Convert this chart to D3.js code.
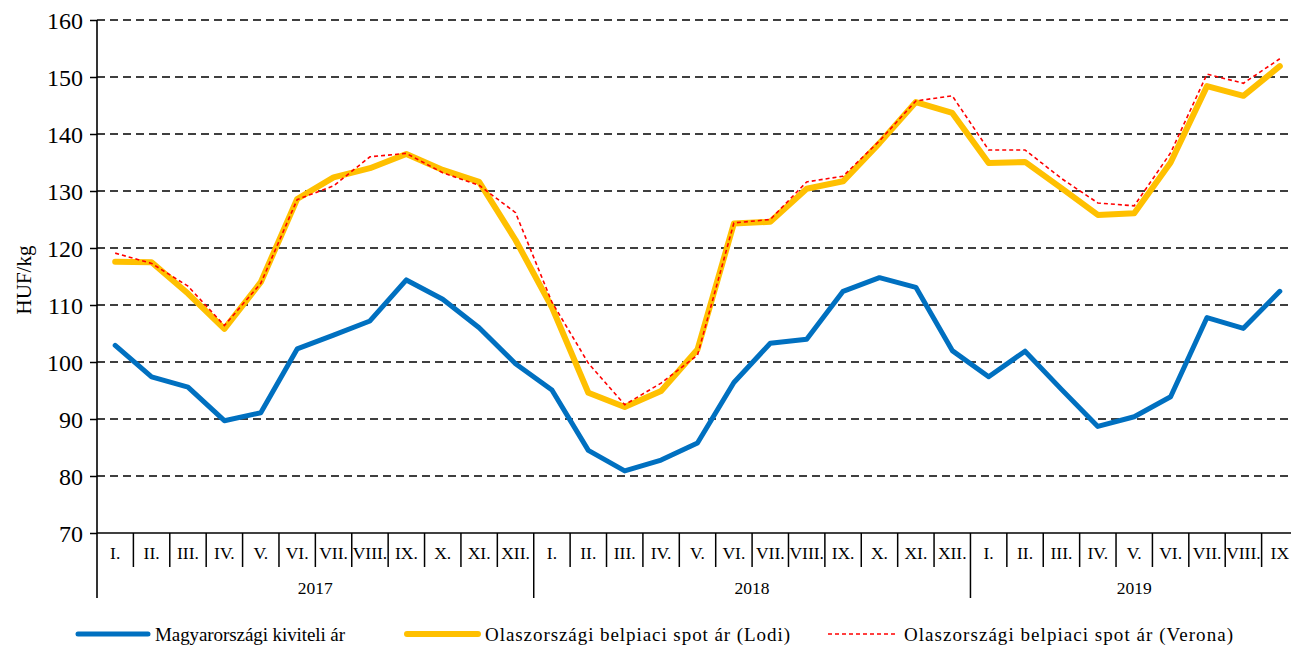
<!DOCTYPE html>
<html>
<head>
<meta charset="utf-8">
<script src="https://cdn.jsdelivr.net/npm/d3@7"></script>
<style>
  html, body { margin: 0; padding: 0; background: #fff; }
  svg { display: block; }
  svg text { font-family: "Liberation Serif", "DejaVu Serif", serif; fill: #000; }
</style>
</head>
<body>
<svg id="chart" width="1291" height="646"></svg>
<script>
const months = ["I.","II.","III.","IV.","V.","VI.","VII.","VIII.","IX.","X.","XI.","XII.",
                "I.","II.","III.","IV.","V.","VI.","VII.","VIII.","IX.","X.","XI.","XII.",
                "I.","II.","III.","IV.","V.","VI.","VII.","VIII.","IX"];
const years = [{label:"2017", start:0, count:12},{label:"2018", start:12, count:12},{label:"2019", start:24, count:9}];
const yTicks = [70,80,90,100,110,120,130,140,150,160];

const hungary = [102.9,97.4,95.6,89.7,91.1,102.3,104.7,107.2,114.4,111.0,106.0,99.7,
                 95.1,84.5,80.9,82.8,85.8,96.4,103.3,104.0,112.4,114.8,113.1,102.0,
                 97.4,101.9,95.2,88.7,90.4,93.9,107.8,105.9,112.4];
const lodi = [117.6,117.5,112.0,105.8,114.0,128.6,132.4,134.0,136.5,133.7,131.6,121.4,
              109.6,94.6,92.1,94.9,102.2,124.3,124.6,130.4,131.7,138.4,145.6,143.7,
              134.9,135.1,130.5,125.8,126.1,135.0,148.4,146.7,151.9];
const verona = [119.1,117.3,113.3,106.4,113.8,128.5,130.9,136.0,136.6,133.2,131.0,126.2,
                110.5,99.8,92.5,96.3,101.2,124.4,125.0,131.6,132.6,138.8,145.8,146.7,
                137.2,137.2,132.2,127.9,127.4,136.7,150.5,148.9,153.2];
const seriesNames = ["Magyarországi kiviteli ár","Olaszországi belpiaci spot ár (Lodi)","Olaszországi belpiaci spot ár (Verona)"];

(function () {
const svg = d3.select("#chart");
const mLeft = 97, mRight = 1298, mTop = 20, mBottom = 533, clipRight = 1291;

const x = d3.scaleBand().domain(d3.range(months.length)).range([mLeft, mRight]);
const y = d3.scaleLinear().domain([70,160]).range([mBottom, mTop]);

// gridlines
svg.append("g").selectAll("line").data(yTicks.filter(d => d > 70)).join("line")
  .attr("x1", mLeft).attr("x2", clipRight)
  .attr("y1", d => y(d)).attr("y2", d => y(d))
  .attr("stroke", "#000").attr("stroke-width", 1.6).attr("stroke-dasharray", "8,5");

// y axis
const yAxis = d3.axisLeft(y).tickValues(yTicks).tickSize(7).tickPadding(7).tickFormat(d3.format("d"));
const gy = svg.append("g").attr("transform", `translate(${mLeft},0)`).call(yAxis);
gy.attr("font-family", null).attr("font-size", null);
gy.select(".domain").remove();
gy.selectAll(".tick line").attr("stroke", "#000").attr("stroke-width", 1.5);
gy.selectAll(".tick text").style("font-size", "24px").attr("dy", "0.34em");
svg.append("line").attr("x1", mLeft).attr("x2", mLeft).attr("y1", mTop).attr("y2", 598)
  .attr("stroke", "#000").attr("stroke-width", 1.6);

// x axis baseline
svg.append("line").attr("x1", mLeft).attr("x2", clipRight).attr("y1", mBottom).attr("y2", mBottom)
  .attr("stroke", "#000").attr("stroke-width", 1.6);

// month separators
const yearStarts = years.map(d => d.start);
svg.append("g").selectAll("line").data(d3.range(1, months.length)).join("line")
  .attr("x1", i => x(i)).attr("x2", i => x(i))
  .attr("y1", mBottom).attr("y2", i => yearStarts.includes(i) ? 598 : 567)
  .attr("stroke", "#000").attr("stroke-width", 1.5);

// month labels
svg.append("g").selectAll("text").data(months).join("text")
  .attr("x", (d, i) => x(i) + x.bandwidth() / 2)
  .attr("y", 559)
  .attr("text-anchor", "middle")
  .style("font-size", "17.5px")
  .text(d => d);

// year labels
svg.append("g").selectAll("text").data(years).join("text")
  .attr("x", d => (x(d.start) + x(d.start + d.count - 1) + x.bandwidth()) / 2)
  .attr("y", 594)
  .attr("text-anchor", "middle")
  .style("font-size", "17.5px")
  .text(d => d.label);

// y label
svg.append("text")
  .attr("transform", "translate(31,280) rotate(-90)")
  .attr("text-anchor", "middle")
  .style("font-size", "21px")
  .text("HUF/kg");

const line = d3.line().x((d, i) => x(i) + x.bandwidth() / 2).y(d => y(d));

svg.append("path").datum(hungary).attr("d", line)
  .attr("fill", "none").attr("stroke", "#0070C0").attr("stroke-width", 5).attr("stroke-linejoin", "round").attr("stroke-linecap", "round");
svg.append("path").datum(lodi).attr("d", line)
  .attr("fill", "none").attr("stroke", "#FFC000").attr("stroke-width", 6).attr("stroke-linejoin", "round").attr("stroke-linecap", "round");
svg.append("path").datum(verona).attr("d", line)
  .attr("fill", "none").attr("stroke", "#FF0000").attr("stroke-width", 1.6).attr("stroke-dasharray", "4,3");

// legend
const legend = [
  {name: seriesNames[0], color: "#0070C0", w: 5, dash: null, x1: 78, x2: 148, tx: 155, len: 190},
  {name: seriesNames[1], color: "#FFC000", w: 6, dash: null, x1: 407, x2: 478, tx: 485, len: 305},
  {name: seriesNames[2], color: "#FF0000", w: 1.6, dash: "4,3", x1: 828, x2: 896, tx: 904, len: 329}
];
const lg = svg.append("g").selectAll("g").data(legend).join("g");
lg.append("line").attr("x1", d => d.x1).attr("x2", d => d.x2).attr("y1", 634).attr("y2", 634)
  .attr("stroke", d => d.color).attr("stroke-width", d => d.w)
  .attr("stroke-dasharray", d => d.dash).attr("stroke-linecap", d => d.dash ? "butt" : "round");
lg.append("text").attr("x", d => d.tx).attr("y", 641).style("font-size", "19px")
  .attr("textLength", d => d.len).attr("lengthAdjust", "spacing")
  .text(d => d.name);
})();
</script>
</body>
</html>
